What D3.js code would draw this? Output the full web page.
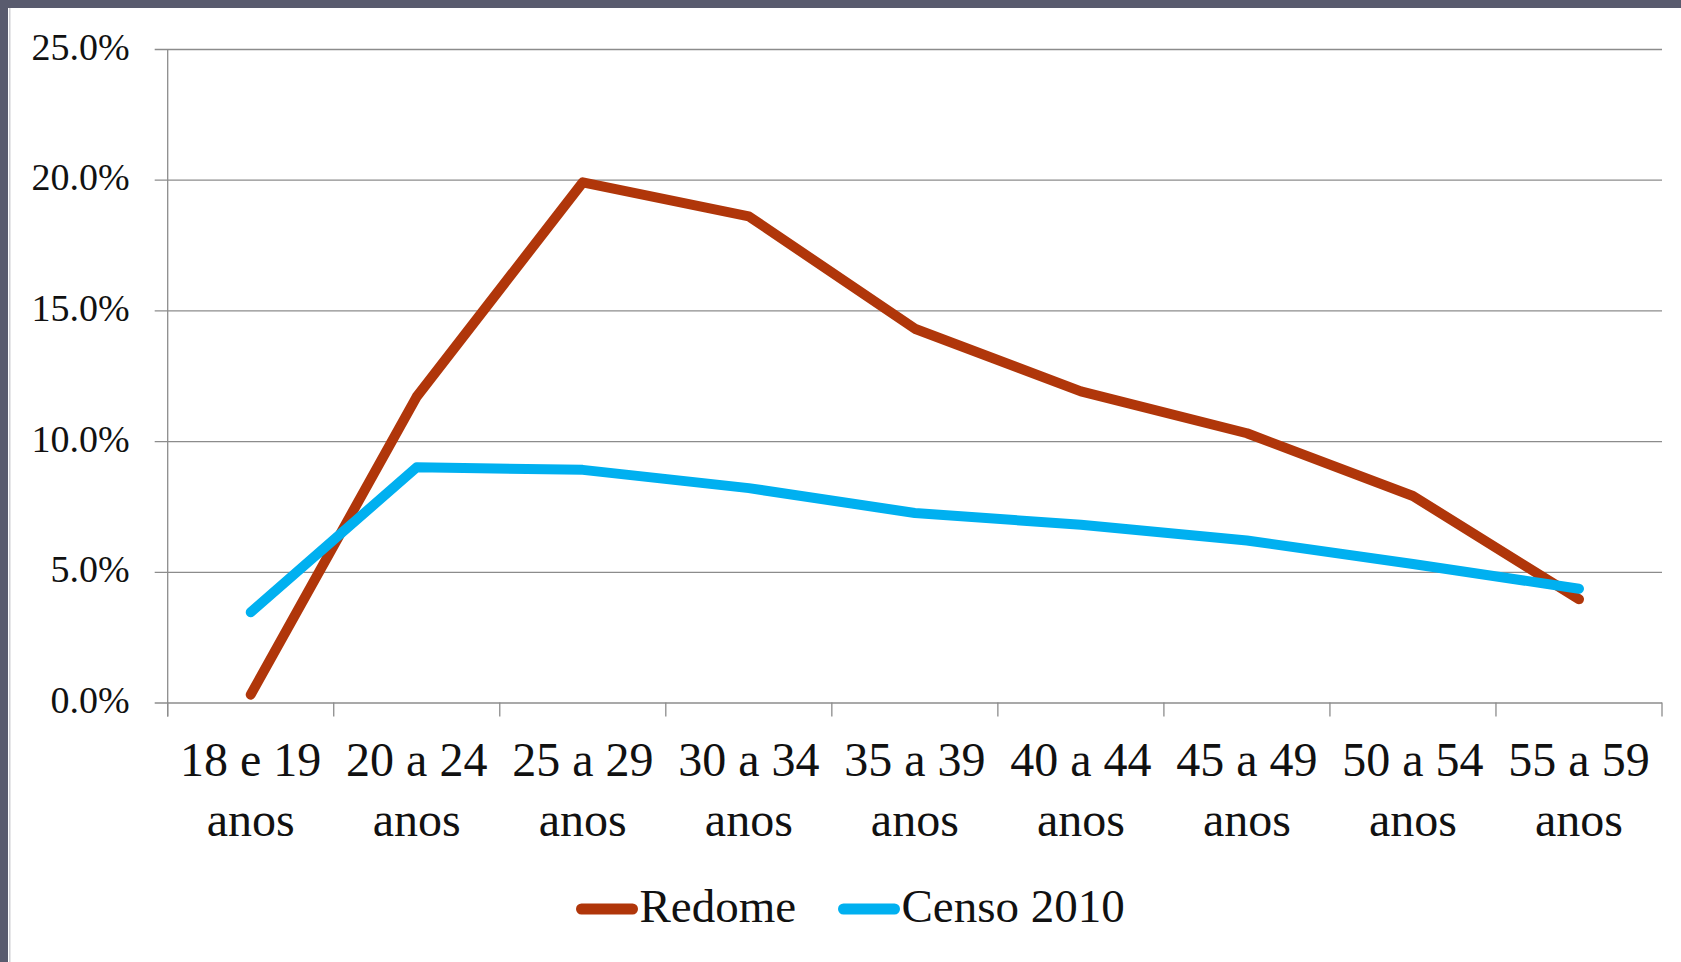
<!DOCTYPE html>
<html>
<head>
<meta charset="utf-8">
<script src="https://cdn.jsdelivr.net/npm/d3@7"></script>
<style>
  body { margin: 0; background: #fff; }
  svg { display: block; }
</style>
</head>
<body>
<div id="chart"></div>
<script>
const categories = ['18 e 19 anos', '20 a 24 anos', '25 a 29 anos', '30 a 34 anos', '35 a 39 anos',
  '40 a 44 anos', '45 a 49 anos', '50 a 54 anos', '55 a 59 anos']
const redome = [0.3, 11.7, 19.9, 18.6, 14.3, 11.9, 10.3, 7.9, 3.95]
const censo = [3.45, 9.0, 8.9, 8.2, 7.25, 6.8, 6.2, 5.3, 4.35]
const yTicks = [0, 5, 10, 15, 20, 25]
const seriesNames = ['Redome', 'Censo 2010']
const seriesColors = ['#b0360a', '#00b0f0']

const width = 1681
const height = 962
const margin = { top: 49, right: 19, bottom: 259.5, left: 167.7 }
const w = width - margin.left - margin.right
const h = height - margin.top - margin.bottom
const font = '"Liberation Serif", "Times New Roman", serif'

const svg = d3.select('#chart')
  .append('svg')
    .attr('width', width)
    .attr('height', height)

svg.append('rect').attr('width', width).attr('height', height).attr('fill', '#fff')
// slide frame
svg.append('rect').attr('x', 0).attr('y', 0).attr('width', width).attr('height', 8).attr('fill', '#595b6e')
svg.append('rect').attr('x', 0).attr('y', 0).attr('width', 8).attr('height', height).attr('fill', '#595b6e')
svg.append('rect').attr('x', 9).attr('y', 8).attr('width', 1.5).attr('height', height).attr('fill', '#d0d0d4')

const g = svg.append('g')
  .attr('transform', `translate(${margin.left},${margin.top})`)

const x = d3.scaleBand().domain(categories).range([0, w]).padding(0)
const y = d3.scaleLinear().domain([0, 25]).range([h, 0])

// y axis with gridlines
const yAxis = g.append('g')
  .call(d3.axisLeft(y)
    .tickValues(yTicks)
    .tickFormat(d => d.toFixed(1) + '%')
    .tickSize(-w)
    .tickPadding(38))
yAxis.select('.domain').remove()
yAxis.selectAll('line')
  .attr('x1', -13)
  .attr('stroke', '#8c8c8c')
  .attr('stroke-width', 1.3)
yAxis.selectAll('text')
  .attr('font-family', font)
  .attr('font-size', 38)
  .attr('fill', '#111')
  .attr('dy', 10)

// vertical axis line
g.append('line')
  .attr('x1', 0).attr('x2', 0)
  .attr('y1', 0).attr('y2', h + 14)
  .attr('stroke', '#8c8c8c')
  .attr('stroke-width', 1.3)

// category boundary ticks
const bounds = categories.map(c => x(c)).concat([w])
g.append('g')
  .selectAll('line')
  .data(bounds)
  .join('line')
    .attr('x1', d => d).attr('x2', d => d)
    .attr('y1', h).attr('y2', h + 14)
    .attr('stroke', '#8c8c8c')
    .attr('stroke-width', 1.3)

// x labels, two lines
const xAxis = g.append('g')
  .attr('transform', `translate(0,${h})`)
  .call(d3.axisBottom(x).tickSize(0).tickFormat(''))
xAxis.select('.domain').remove()
xAxis.selectAll('.tick text').remove()
xAxis.selectAll('.tick').each(function (d) {
  const parts = d.split(' ')
  const t = d3.select(this).append('text')
    .attr('font-family', font)
    .attr('font-size', 48)
    .attr('fill', '#111')
    .attr('text-anchor', 'middle')
  t.append('tspan').attr('x', 0).attr('y', 73).text(parts.slice(0, 3).join(' '))
  t.append('tspan').attr('x', 0).attr('y', 133).text(parts[3])
})

// lines
const line = d3.line()
  .x((d, i) => x(categories[i]) + x.bandwidth() / 2)
  .y(d => y(d))

g.selectAll('.series')
  .data([redome, censo])
  .join('path')
    .attr('class', 'series')
    .attr('d', line)
    .attr('fill', 'none')
    .attr('stroke', (d, i) => seriesColors[i])
    .attr('stroke-width', 10)
    .attr('stroke-linecap', 'round')
    .attr('stroke-linejoin', 'round')

// legend
const legendItems = [
  { name: seriesNames[0], color: seriesColors[0], x0: 581.5 },
  { name: seriesNames[1], color: seriesColors[1], x0: 843.5 }
]
const legend = svg.append('g')
legend.selectAll('line')
  .data(legendItems)
  .join('line')
    .attr('x1', d => d.x0).attr('x2', d => d.x0 + 51)
    .attr('y1', 909).attr('y2', 909)
    .attr('stroke', d => d.color)
    .attr('stroke-width', 11)
    .attr('stroke-linecap', 'round')
legend.selectAll('text')
  .data(legendItems)
  .join('text')
    .attr('x', d => d.x0 + 58)
    .attr('y', 922)
    .attr('font-family', font)
    .attr('font-size', 47)
    .attr('fill', '#111')
    .text(d => d.name)
</script>
</body>
</html>
